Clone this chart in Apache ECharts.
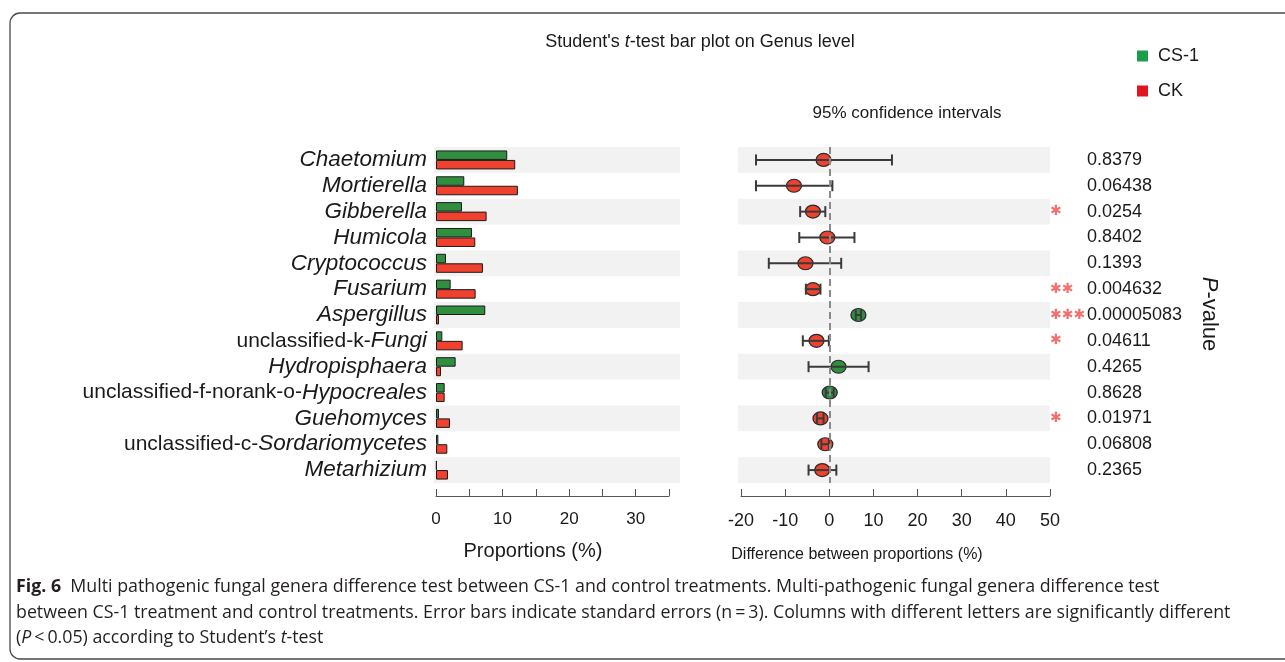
<!DOCTYPE html>
<html><head><meta charset="utf-8">
<script src="https://cdn.jsdelivr.net/npm/echarts@6/dist/echarts.min.js"></script>
<style>html,body{margin:0;padding:0;background:#fff;}#c{width:1285px;height:662px;}</style>
</head><body><div id="c"></div>
<script>
// ---- data ----
const genera = ['Chaetomium','Mortierella','Gibberella','Humicola','Cryptococcus','Fusarium','Aspergillus','unclassified-k-Fungi','Hydropisphaera','unclassified-f-norank-o-Hypocreales','Guehomyces','unclassified-c-Sordariomycetes','Metarhizium'];
const cs1 = [10.7, 4.25, 3.9, 5.4, 1.5, 2.2, 7.4, 0.95, 2.95, 1.3, 0.45, 0.35, 0.12];
const ck  = [11.9, 12.3, 7.6, 5.9, 7.05, 5.95, 0.45, 4.0, 0.75, 1.3, 2.1, 1.7, 1.8];
const diffMean = [-1.3, -8.0, -3.7, -0.45, -5.4, -3.7, 6.6, -2.9, 2.1, 0.1, -2.0, -0.9, -1.6];
const ciLow    = [-16.6, -16.6, -6.6, -6.8, -13.7, -5.3, 6.0, -6.0, -4.7, -0.8, -2.8, -1.8, -4.7];
const ciHigh   = [14.2, 0.7, -0.9, 5.7, 2.7, -2.0, 7.2, -0.1, 8.9, 1.0, -1.3, -0.1, 1.6];
const pValues  = ['0.8379','0.06438','0.0254','0.8402','0.1393','0.004632','0.00005083','0.04611','0.4265','0.8628','0.01971','0.06808','0.2365'];
const propAxis = {min: 0, max: 35, interval: 5};
const diffAxis = {min: -20, max: 50, interval: 10};
const groups = ['CS-1', 'CK'];

// ---- styling ----
const F = "'Liberation Sans', Arial, sans-serif";
const CAP = "'Open Sans', sans-serif";
const TXT = '#1a1a1a';
const GREEN = '#2f8f3f', RED = '#f0412f';
const BAND = ['#f2f2f2', 'rgba(255,255,255,0)'];

function genusLabel(name) {
  const m = name.match(/^(unclassified-.*-)([^-]+)$/);
  if (m) return '{n|' + m[1] + '}{i|' + m[2] + '}';
  return '{i|' + name + '}';
}
function stars(p) {
  const v = parseFloat(p);
  return v < 0.001 ? '✱✱✱' : v < 0.01 ? '✱✱' : v < 0.05 ? '✱' : ' ';
}

const chart = echarts.init(document.getElementById('c'), null, {renderer: 'canvas'});
const bandY = (gi) => ({
  gridIndex: gi, type: 'category', inverse: true, data: genera,
  axisLine: {show: false}, axisTick: {show: false}, axisLabel: {show: false},
  splitLine: {show: false}, splitArea: {show: true, areaStyle: {color: BAND}}
});
const axisLineStyle = {color: '#555', width: 1};

chart.setOption({
  backgroundColor: '#fff',
  animation: false,
  textStyle: {fontFamily: F},
  legend: {
    data: [
      {name: groups[0], itemStyle: {color: '#1b9e48', borderWidth: 0}},
      {name: groups[1], itemStyle: {color: '#e3141e', borderWidth: 0}}
    ],
    orient: 'vertical', left: 1137, top: 47, itemGap: 17, padding: 0,
    itemWidth: 11, itemHeight: 11, icon: 'rect', selectedMode: false,
    textStyle: {fontSize: 18, color: TXT, fontFamily: F, padding: [0, 0, 0, 5]}
  },
  grid: [
    {left: 436, top: 147, width: 233, height: 336},
    {left: 741, top: 147, width: 309, height: 336},
    {left: 434, top: 147, width: 246, height: 336, z: 0},
    {left: 738, top: 147, width: 312, height: 336, z: 0}
  ],
  xAxis: [
    {gridIndex: 0, type: 'value', min: propAxis.min, max: propAxis.max, interval: propAxis.interval, offset: 13,
     axisLine: {show: true, lineStyle: axisLineStyle},
     axisTick: {show: true, inside: true, length: 7, lineStyle: axisLineStyle},
     axisLabel: {formatter: v => (v % 10 === 0 ? String(v) : ''), fontSize: 17, color: TXT, margin: 15, fontFamily: F},
     splitLine: {show: false}},
    {gridIndex: 1, type: 'value', min: diffAxis.min, max: diffAxis.max, interval: diffAxis.interval, offset: 13,
     axisLine: {show: true, lineStyle: axisLineStyle},
     axisTick: {show: true, inside: true, length: 7, lineStyle: axisLineStyle},
     axisLabel: {fontSize: 18, color: TXT, margin: 16, fontFamily: F},
     splitLine: {show: false}},
    {gridIndex: 2, type: 'value', show: false},
    {gridIndex: 3, type: 'value', show: false}
  ],
  yAxis: [
    {gridIndex: 0, type: 'category', inverse: true, data: genera,
     axisLine: {show: false}, axisTick: {show: false}, splitLine: {show: false},
     axisLabel: {interval: 0, margin: 9, formatter: genusLabel,
       rich: {
         n: {fontSize: 21, color: TXT, fontFamily: F},
         i: {fontSize: 22.5, color: TXT, fontFamily: F, fontStyle: 'italic'}
       }}},
    {gridIndex: 1, type: 'category', inverse: true, data: genera, show: true,
     axisLine: {show: false}, axisTick: {show: false}, axisLabel: {show: false}, splitLine: {show: false}},
    {gridIndex: 1, type: 'category', inverse: true, data: genera, position: 'right',
     axisLine: {show: false}, axisTick: {show: false}, splitLine: {show: false},
     axisLabel: {interval: 0, margin: 0,
       formatter: (v, i) => '{s|' + stars(pValues[i]) + '}{p|' + pValues[i] + '}',
       rich: {
         s: {width: 37, align: 'left', fontSize: 14, color: '#f27070', fontFamily: "'DejaVu Sans', sans-serif"},
         p: {fontSize: 18, color: TXT, fontFamily: F}
       }}},
    bandY(2),
    bandY(3)
  ],
  series: [
    {name: groups[0], type: 'bar', xAxisIndex: 0, yAxisIndex: 0, data: cs1,
     barWidth: 9.5, barGap: '0%', z: 3,
     itemStyle: {color: GREEN, borderColor: '#1a1a1a', borderWidth: 1}},
    {name: groups[1], type: 'bar', xAxisIndex: 0, yAxisIndex: 0, data: ck,
     barWidth: 9.5, barGap: '0%', z: 3,
     itemStyle: {color: RED, borderColor: '#1a1a1a', borderWidth: 1}},
    {name: 'zero', type: 'line', xAxisIndex: 1, yAxisIndex: 1, data: [], z: 2,
     markLine: {silent: true, symbol: 'none', label: {show: false},
       lineStyle: {color: '#8a8a8a', type: [7, 4], width: 2},
       data: [{xAxis: 0}]}},
    {name: 'diff', type: 'scatter', xAxisIndex: 1, yAxisIndex: 1, z: 3,
     data: diffMean.map((d, i) => [d, i]),
     symbolSize: [15, 13],
     itemStyle: {color: p => (p.data[0] >= 0 ? GREEN : RED), borderColor: '#2a2a2a', borderWidth: 1.2, opacity: 1}},
    {name: 'ci', type: 'custom', xAxisIndex: 1, yAxisIndex: 1, z: 4,
     data: ciLow.map((lo, i) => [lo, ciHigh[i], i]),
     encode: {x: [0, 1], y: 2},
     renderItem: (params, api) => {
       const y = api.value(2);
       const a = api.coord([api.value(0), y]);
       const b = api.coord([api.value(1), y]);
       const h = 5.5;
       const st = {stroke: '#3a3a3a', lineWidth: 2};
       return {type: 'group', children: [
         {type: 'line', shape: {x1: a[0], y1: a[1], x2: b[0], y2: b[1]}, style: st},
         {type: 'line', shape: {x1: a[0], y1: a[1] - h, x2: a[0], y2: a[1] + h}, style: st},
         {type: 'line', shape: {x1: b[0], y1: b[1] - h, x2: b[0], y2: b[1] + h}, style: st}
       ]};
     }}
  ],
  graphic: [
    {type: 'rect', z: -10, shape: {x: 10, y: 13, width: 1300, height: 646, r: 10},
     style: {fill: 'none', stroke: '#4a4a4a', lineWidth: 1.3}},
    {type: 'text', x: 700, y: 42, style: {
      text: "Student's {i|t}-test bar plot on Genus level", align: 'center', verticalAlign: 'middle',
      font: '18px ' + F, fill: TXT, rich: {i: {fontStyle: 'italic', fontSize: 18, fontFamily: F, fill: TXT}}}},
    {type: 'text', x: 907, y: 113, style: {
      text: '95% confidence intervals', align: 'center', verticalAlign: 'middle', font: '17px ' + F, fill: TXT}},
    {type: 'text', x: 533, y: 551, style: {
      text: 'Proportions (%)', align: 'center', verticalAlign: 'middle', font: '20px ' + F, fill: TXT}},
    {type: 'text', x: 857, y: 555, style: {
      text: 'Difference between proportions (%)', align: 'center', verticalAlign: 'middle', font: '16px ' + F, fill: TXT}},
    {type: 'text', x: 1209, y: 314, rotation: -Math.PI / 2, style: {
      text: '{i|P}-value', align: 'center', verticalAlign: 'middle', font: '22px ' + F, fill: TXT,
      rich: {i: {fontStyle: 'italic', fontSize: 22, fontFamily: F, fill: TXT}}}},
    {type: 'text', x: 16, y: 587, style: {
      text: '{b|Fig. 6}  Multi pathogenic fungal genera difference test between CS-1 and control treatments. Multi-pathogenic fungal genera difference test',
      align: 'left', verticalAlign: 'middle', font: "17.8px " + CAP, fill: '#231f20',
      rich: {b: {fontWeight: 'bold', fontSize: 17.8, fontFamily: CAP, fill: '#231f20'}}}},
    {type: 'text', x: 16, y: 613, style: {
      text: 'between CS-1 treatment and control treatments. Error bars indicate standard errors (n\u2009=\u20093). Columns with different letters are significantly different',
      align: 'left', verticalAlign: 'middle', font: "17.8px " + CAP, fill: '#231f20'}},
    {type: 'text', x: 16, y: 638, style: {
      text: '({i|P}\u2009<\u20090.05) according to Student\u2019s {i|t}-test',
      align: 'left', verticalAlign: 'middle', font: "17.8px " + CAP, fill: '#231f20',
      rich: {i: {fontStyle: 'italic', fontSize: 17.8, fontFamily: CAP, fill: '#231f20'}}}}
  ]
});
</script></body></html>
